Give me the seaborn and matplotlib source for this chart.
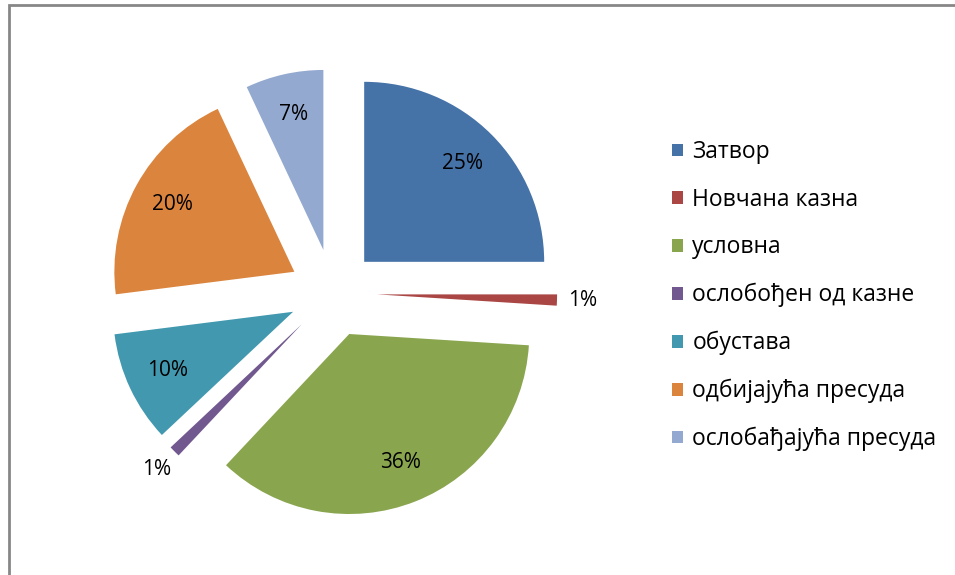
import numpy as np
import seaborn as sns
import matplotlib.pyplot as plt
from matplotlib.patches import Rectangle

# data
categories = ['Затвор', 'Новчана казна', 'условна', 'ослобођен од казне',
              'обустава', 'одбијајућа пресуда', 'ослобађајућа пресуда']
shares = [25, 1, 36, 1, 10, 20, 7]
colors = ['#4572A7', '#AA4643', '#89A54E', '#71588F', '#4198AF', '#DB843D', '#93A9CF']

sns.set_theme(style="white")
plt.rcParams['font.family'] = ['Open Sans', 'DejaVu Sans']

W, H = 955, 575
R = 180  # pie radius in px
cx, cy = 333, 293  # pie centre in px from top-left

fig = plt.figure(figsize=(W / 100, H / 100), dpi=100)
ax = fig.add_axes([0, 0, 1, 1])

wedges, texts, autotexts = ax.pie(
    shares, colors=colors, startangle=90, counterclock=False,
    explode=[0.245] * len(shares), autopct='%1.0f%%', pctdistance=0.77,
    textprops={'fontsize': 15, 'color': 'black'},
    wedgeprops={'linewidth': 0})

# small slices get their label outside
for w, t, v in zip(wedges, autotexts, shares):
    if v < 2:
        mid = np.deg2rad((w.theta1 + w.theta2) / 2)
        x0, y0 = w.center
        t.set_position((x0 + 1.14 * np.cos(mid), y0 + 1.14 * np.sin(mid)))

ax.set_xlim(-cx / R, (W - cx) / R)
ax.set_ylim(-(H - cy) / R, cy / R)
ax.set_axis_off()

ax.legend(wedges, categories, loc='upper left', bbox_to_anchor=(663 / W, 1 - 131 / H),
          frameon=False, fontsize=16.5, labelcolor='black',
          handlelength=0.48, handleheight=0.48,
          handletextpad=0.4, labelspacing=1.03, borderaxespad=0)

# chart border (partly cut off at right/bottom)
fig.add_artist(Rectangle((8.5 / W, -0.1), 1.2, (H - 5.5) / H + 0.1,
                         transform=fig.transFigure, fill=False,
                         edgecolor='#878787', linewidth=2))

fig.savefig('out.png', dpi=100)
